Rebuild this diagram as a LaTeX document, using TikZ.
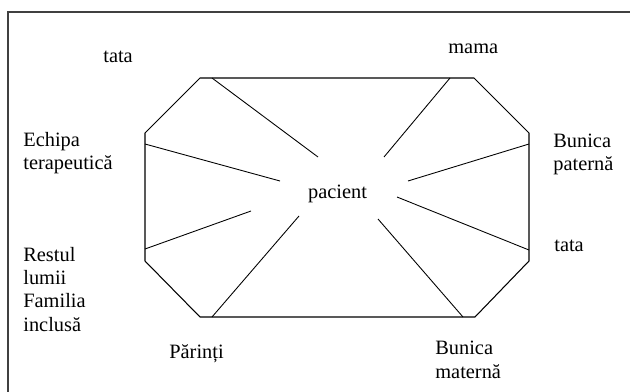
\documentclass[tikz,border=0pt]{standalone}
\usepackage{fontspec}
\setmainfont{Liberation Serif}
\tikzset{
  lbl/.style={inner sep=0pt, align=left, anchor=base west,
    font=\fontsize{11.6pt}{13.1pt}\selectfont},
  ray/.style={line width=0.5pt}
}
\begin{document}
\begin{tikzpicture}[x=0.02cm,y=-0.02cm]
	\useasboundingbox (0,0) rectangle (630,392);
	\draw[line width=0.9pt, black!75] (630,12) -- (8,12) -- (8,392);
	% octagon
	\draw[line width=0.6pt] (200,78) -- (474,78) -- (529,133) -- (529,261)
		-- (475,317) -- (200,317) -- (145,261) -- (145,133) -- cycle;
	\node[lbl, anchor=base] (pac) at (337.5,198) {pacient};
	% rays: outer end on the octagon, inner end near the centre
	\coordinate (o1) at (212,78);  \coordinate (i1) at (318,157);
	\coordinate (o2) at (450,78);  \coordinate (i2) at (384,157);
	\coordinate (o3) at (145,144); \coordinate (i3) at (280,181);
	\coordinate (o4) at (529,144); \coordinate (i4) at (408,181);
	\coordinate (o5) at (145,249); \coordinate (i5) at (251,211);
	\coordinate (o6) at (529,250); \coordinate (i6) at (397,197);
	\coordinate (o7) at (212,317); \coordinate (i7) at (299,216);
	\coordinate (o8) at (463,317); \coordinate (i8) at (378,219);
	\foreach \k in {1,...,8}
		\draw[ray] (o\k) -- (i\k);
	% labels (base = last line)
	\node[lbl] (tata1) at (103,63) {tata};
	\node[lbl] (mama) at (448,53) {mama};
	\node[lbl] (echipa) at (23,170) {Echipa\\terapeutică};
	\node[lbl] (bpat) at (553,171) {Bunica\\paternă};
	\node[lbl] (restul) at (23,331) {Restul\\lumii\\Familia\\inclusă};
	\node[lbl] (tata2) at (554,251) {tata};
	\node[lbl] (parinti) at (169,358) {Părinți};
	\node[lbl] (bmat) at (435,378) {Bunica\\maternă};
\end{tikzpicture}
\end{document}
